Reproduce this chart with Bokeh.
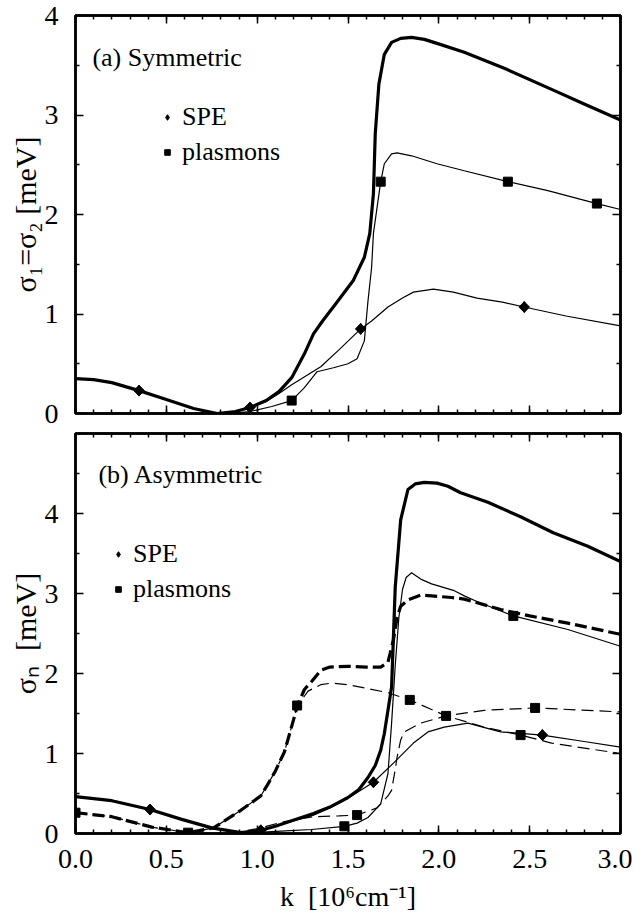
import numpy as np
from bokeh.plotting import figure
from bokeh.models import (Range1d, FixedTicker, LinearAxis, Legend, LegendItem,
                          Label, NumeralTickFormatter, CustomJSTickFormatter)
from bokeh.layouts import column
from bokeh.embed import file_html
from bokeh.resources import INLINE

FONT = "Liberation Serif"

# ---------------- panel (a) Symmetric ----------------
a_k_total = [0.00, 0.10, 0.20, 0.35, 0.50, 0.65, 0.78, 0.88, 0.96, 1.05, 1.12, 1.19, 1.26, 1.31,
             1.36, 1.44, 1.53, 1.59, 1.62, 1.64, 1.65, 1.67, 1.70, 1.74, 1.79, 1.85, 1.92, 1.99,
             2.14, 2.36, 2.63, 2.80, 3.00]
a_s_total = [0.35, 0.34, 0.31, 0.23, 0.14, 0.05, 0.00, 0.02, 0.06, 0.13, 0.22, 0.36, 0.60, 0.80,
             0.93, 1.12, 1.34, 1.57, 1.81, 2.21, 2.81, 3.31, 3.61, 3.73, 3.77, 3.78, 3.76, 3.72,
             3.63, 3.47, 3.25, 3.11, 2.95]

a_k_spe = [0.00, 0.10, 0.20, 0.35, 0.50, 0.65, 0.78, 0.88, 0.96, 1.05, 1.12, 1.19, 1.27, 1.35,
           1.45, 1.57, 1.63, 1.72, 1.80, 1.86, 1.97, 2.08, 2.21, 2.35, 2.47, 2.70, 3.00]
a_s_spe = [0.35, 0.34, 0.31, 0.23, 0.14, 0.05, 0.00, 0.02, 0.06, 0.12, 0.20, 0.29, 0.38, 0.47,
           0.64, 0.85, 0.93, 1.07, 1.16, 1.22, 1.25, 1.22, 1.16, 1.12, 1.07, 0.98, 0.88]

a_k_pl = [0.80, 0.90, 0.96, 1.08, 1.19, 1.26, 1.33, 1.42, 1.50, 1.55, 1.59, 1.61, 1.63, 1.64,
          1.68, 1.70, 1.74, 1.77, 1.85, 1.99, 2.14, 2.38, 2.60, 2.87, 3.00]
a_s_pl = [0.00, 0.01, 0.02, 0.07, 0.13, 0.26, 0.42, 0.46, 0.50, 0.55, 0.73, 1.13, 1.47, 1.81,
          2.33, 2.51, 2.61, 2.62, 2.59, 2.51, 2.44, 2.33, 2.24, 2.11, 2.05]

a_spe_mk_k = [0.35, 0.96, 1.57, 2.47]
a_spe_mk_s = [0.23, 0.06, 0.85, 1.07]
a_pl_mk_k = [1.19, 1.68, 2.38, 2.87]
a_pl_mk_s = [0.13, 2.33, 2.33, 2.11]

# ---------------- panel (b) Asymmetric ----------------
b_k_tot1 = [0.00, 0.20, 0.41, 0.58, 0.75, 0.91, 1.02, 1.10, 1.19, 1.31, 1.40, 1.50, 1.56, 1.61,
            1.65, 1.68, 1.70, 1.72, 1.74, 1.76, 1.79, 1.83, 1.87, 1.92, 1.99, 2.05, 2.12, 2.27,
            2.45, 2.63, 2.82, 3.00]
b_s_tot1 = [0.46, 0.41, 0.30, 0.18, 0.07, 0.01, 0.04, 0.09, 0.16, 0.25, 0.33, 0.45, 0.55, 0.70,
            0.85, 1.04, 1.25, 1.54, 1.83, 3.08, 3.92, 4.30, 4.37, 4.39, 4.38, 4.34, 4.26, 4.14,
            3.96, 3.76, 3.59, 3.40]

b_k_spe1 = [0.00, 0.20, 0.41, 0.58, 0.75, 0.91, 1.02, 1.10, 1.19, 1.31, 1.40, 1.50, 1.64, 1.75,
            1.86, 1.94, 2.03, 2.16, 2.34, 2.57, 2.80, 3.00]
b_s_spe1 = [0.46, 0.41, 0.30, 0.18, 0.07, 0.01, 0.04, 0.09, 0.15, 0.23, 0.32, 0.44, 0.64, 0.88,
            1.13, 1.27, 1.33, 1.38, 1.27, 1.23, 1.15, 1.08]

b_k_pl1 = [0.90, 1.13, 1.30, 1.48, 1.55, 1.61, 1.68, 1.72, 1.74, 1.76, 1.78, 1.80, 1.82, 1.85,
           1.90, 1.96, 2.08, 2.14, 2.21, 2.41, 2.71, 3.00]
b_s_pl1 = [0.00, 0.03, 0.05, 0.09, 0.13, 0.20, 0.37, 0.75, 1.38, 2.10, 2.70, 3.05, 3.20, 3.26,
           3.18, 3.12, 3.04, 2.97, 2.90, 2.72, 2.55, 2.34]

b_k_tot2 = [0.00, 0.20, 0.42, 0.62, 0.76, 0.91, 1.02, 1.06, 1.10, 1.15, 1.20, 1.22, 1.26, 1.30,
            1.35, 1.40, 1.50, 1.60, 1.68, 1.72, 1.75, 1.77, 1.79, 1.83, 1.90, 1.96, 2.07, 2.14,
            2.34, 2.50, 2.71, 3.00]
b_s_tot2 = [0.26, 0.21, 0.08, 0.01, 0.07, 0.29, 0.47, 0.62, 0.78, 1.02, 1.42, 1.59, 1.80, 1.90,
            2.04, 2.08, 2.09, 2.08, 2.08, 2.14, 2.42, 2.70, 2.84, 2.92, 2.98, 2.97, 2.95, 2.93,
            2.80, 2.72, 2.63, 2.49]

b_k_pl2 = [0.00, 0.20, 0.42, 0.62, 0.76, 0.91, 1.02, 1.06, 1.10, 1.15, 1.20, 1.22, 1.28, 1.35,
           1.41, 1.50, 1.59, 1.72, 1.84, 2.04, 2.25, 2.45, 2.62, 3.00]
b_s_pl2 = [0.26, 0.21, 0.08, 0.01, 0.07, 0.29, 0.47, 0.62, 0.78, 1.02, 1.42, 1.59, 1.78, 1.86,
           1.88, 1.86, 1.82, 1.76, 1.67, 1.47, 1.33, 1.23, 1.13, 1.00]

b_k_spe2 = [0.85, 1.00, 1.15, 1.31, 1.45, 1.55, 1.66, 1.72, 1.74, 1.76, 1.77, 1.79, 1.81, 1.90,
            2.04, 2.25, 2.53, 3.00]
b_s_spe2 = [0.00, 0.06, 0.15, 0.21, 0.22, 0.23, 0.32, 0.47, 0.54, 0.80, 0.95, 1.17, 1.27, 1.38,
            1.47, 1.54, 1.57, 1.52]

b_spe_mk_k = [0.41, 1.02, 1.64, 2.57]
b_spe_mk_s = [0.30, 0.04, 0.64, 1.23]
b_pl_mk_k = [0.00, 0.62, 1.22, 1.48, 1.55, 1.84, 2.04, 2.41, 2.45, 2.53]
b_pl_mk_s = [0.26, 0.01, 1.60, 0.09, 0.23, 1.67, 1.47, 2.72, 1.23, 1.57]

x_major = [0.0, 0.5, 1.0, 1.5, 2.0, 2.5, 3.0]
x_minor = [round(0.1 * i, 1) for i in range(31)]
a_y_major = [0, 1, 2, 3, 4]
a_y_minor = [0.5, 1.5, 2.5, 3.5]
b_y_major = [0, 1, 2, 3, 4]
b_y_minor = [0.5, 1.5, 2.5, 3.5, 4.5]

TICK_FS = "28px"
TITLE_FS = "30px"
TEXT_FS = "26px"


def style_axis(ax, ticks, minor, labels, fmt="0"):
    ax.ticker = FixedTicker(ticks=ticks, minor_ticks=minor)
    ax.axis_line_width = 2.5
    ax.axis_line_color = "black"
    ax.major_tick_in = 8
    ax.major_tick_out = 0
    ax.minor_tick_in = 4
    ax.minor_tick_out = 0
    ax.major_tick_line_width = 1.5
    ax.minor_tick_line_width = 1.5
    ax.major_tick_line_color = "black"
    ax.minor_tick_line_color = "black"
    if labels:
        ax.formatter = NumeralTickFormatter(format=fmt)
        ax.major_label_text_font = FONT
        ax.major_label_text_font_size = TICK_FS
        ax.major_label_text_color = "black"
    else:
        ax.formatter = CustomJSTickFormatter(code="return '';")
        ax.major_label_standoff = 0


def make_fig(height, ymax, yticks, yminor, top, bottom, show_x, ylabel):
    p = figure(width=632, height=height, x_range=Range1d(0, 3), y_range=Range1d(0, ymax),
               output_backend="svg", toolbar_location=None,
               min_border_left=75, min_border_right=12, min_border_top=top,
               min_border_bottom=bottom)
    p.grid.visible = False
    p.outline_line_color = "black"
    p.outline_line_width = 2.5
    xb = p.below[0]
    yl = p.left[0]
    style_axis(xb, x_major, x_minor, show_x, "0.0")
    style_axis(yl, yticks, yminor, True, "0")
    yl.major_label_standoff = 17
    xb.major_label_standoff = 16
    yl.axis_label = ylabel
    yl.axis_label_text_font = FONT
    yl.axis_label_text_font_size = TITLE_FS
    yl.axis_label_text_font_style = "normal"
    yl.axis_label_text_color = "black"
    yl.axis_label_standoff = 0
    ax_top = LinearAxis()
    style_axis(ax_top, x_major, x_minor, False)
    p.add_layout(ax_top, "above")
    ax_r = LinearAxis()
    style_axis(ax_r, yticks, yminor, False)
    p.add_layout(ax_r, "right")
    return p, xb


def add_markers(p, spe_k, spe_s, pl_k, pl_s, legend_loc):
    # narrow diamond (used by the legend) hidden below the drawn square diamonds
    r_d = p.scatter(spe_k, spe_s, marker="diamond", size=11, fill_color="black",
                    line_color="black")
    p.scatter(spe_k, spe_s, marker="square", size=7.5, angle=np.pi / 4,
              fill_color="black", line_color="black")
    r_s = p.scatter(pl_k, pl_s, marker="square", size=9, fill_color="black",
                    line_color="black")
    leg = Legend(items=[LegendItem(label="SPE", renderers=[r_d]),
                        LegendItem(label="plasmons", renderers=[r_s])],
                 location=legend_loc, orientation="vertical",
                 border_line_color=None, background_fill_alpha=0,
                 label_text_font=FONT, label_text_font_size=TEXT_FS,
                 label_text_color="black",
                 glyph_width=14, glyph_height=30, label_height=30, label_standoff=8,
                 spacing=5, padding=0, margin=0)
    p.add_layout(leg)


THICK = 3.2
THIN = 1.2

# ---- top figure ----
p1, xb1 = make_fig(431, 4, a_y_major, a_y_minor, 15, 18, False, "σ₁=σ₂ [meV]")
p1.line(a_k_pl, a_s_pl, line_width=THIN, color="black")
p1.line(a_k_spe, a_s_spe, line_width=THIN, color="black")
p1.line(a_k_total, a_s_total, line_width=THICK, color="black", line_join="round")
add_markers(p1, a_spe_mk_k, a_spe_mk_s, a_pl_mk_k, a_pl_mk_s, (85, 246))
p1.add_layout(Label(x=0.093, y=3.58, text="(a) Symmetric", text_font=FONT,
                    text_font_size=TEXT_FS, text_baseline="middle", text_color="black"))

# ---- bottom figure ----
p2, xb2 = make_fig(483, 5, b_y_major, b_y_minor, 2, 81, True, "σₙ\u2002[meV]")
xb2.axis_label = "k\u2002[10⁶cm⁻¹]"
xb2.axis_label_text_font = FONT
xb2.axis_label_text_font_size = TICK_FS
xb2.axis_label_text_font_style = "normal"
xb2.axis_label_text_color = "black"
xb2.axis_label_standoff = 10

p2.line(b_k_spe2, b_s_spe2, line_width=THIN, color="black", line_dash="12 6")
p2.line(b_k_pl2, b_s_pl2, line_width=THIN, color="black", line_dash="12 6")
p2.line(b_k_pl1, b_s_pl1, line_width=THIN, color="black")
p2.line(b_k_spe1, b_s_spe1, line_width=THIN, color="black")
p2.line(b_k_tot2, b_s_tot2, line_width=THICK, color="black", line_dash="12 5")
p2.line(b_k_tot1, b_s_tot1, line_width=THICK, color="black", line_join="round")
add_markers(p2, b_spe_mk_k, b_spe_mk_s, b_pl_mk_k, b_pl_mk_s, (36, 229))
p2.add_layout(Label(x=0.126, y=4.49, text="(b) Asymmetric", text_font=FONT,
                    text_font_size=TEXT_FS, text_baseline="middle", text_color="black"))

layout = column(p1, p2)
open("out.html", "w").write(file_html(layout, INLINE))
